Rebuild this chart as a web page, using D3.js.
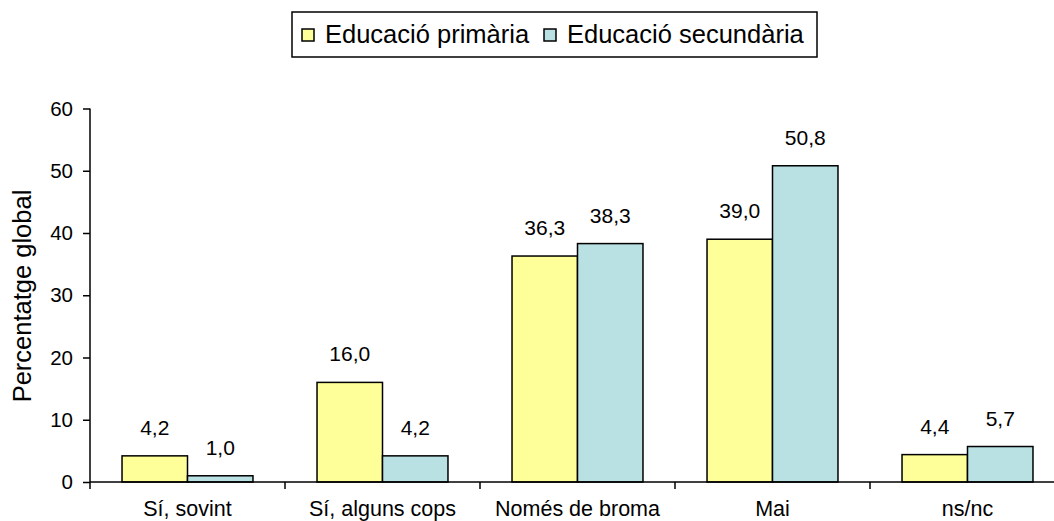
<!DOCTYPE html>
<html>
<head>
<meta charset="utf-8">
<script src="https://cdn.jsdelivr.net/npm/d3@7"></script>
<style>
  html, body { margin: 0; padding: 0; background: #fff; }
  svg { display: block; font-family: "Liberation Sans", Arial, sans-serif; }
</style>
</head>
<body>
<svg id="chart" width="1054" height="521"></svg>
<script>
// Categories and series values (percentatge global)
const categories = ["Sí, sovint", "Sí, alguns cops", "Només de broma", "Mai", "ns/nc"];
const seriesNames = ["Educació primària", "Educació secundària"];
const primaria = [4.2, 16.0, 36.3, 39.0, 4.4];
const secundaria = [1.0, 4.2, 38.3, 50.8, 5.7];
const yTicks = [0, 10, 20, 30, 40, 50, 60];
const seriesColors = ["#FFFF99", "#B9E0E3"];

const fmt = v => v.toFixed(1).replace(".", ",");

const svg = d3.select("#chart");

// Plot geometry
const plotLeft = 90, plotRight = 1065, plotTop = 108.5, plotBottom = 482;

const x0 = d3.scaleBand().domain(categories).range([plotLeft, plotRight]).paddingInner(0).paddingOuter(0);
const x1 = d3.scaleBand().domain(seriesNames).range([0, x0.bandwidth()]).paddingInner(0).paddingOuter(0.489);
const y = d3.scaleLinear().domain([0, 60]).range([plotBottom, plotTop]);

const rows = categories.map((c, i) => ({
  category: c,
  values: [
    { series: seriesNames[0], value: primaria[i], color: seriesColors[0] },
    { series: seriesNames[1], value: secundaria[i], color: seriesColors[1] }
  ]
}));

// Bars
const groups = svg.append("g").selectAll("g")
  .data(rows).join("g")
  .attr("transform", d => `translate(${x0(d.category)},0)`);

groups.selectAll("rect")
  .data(d => d.values).join("rect")
  .attr("x", d => x1(d.series))
  .attr("y", d => y(d.value))
  .attr("width", x1.bandwidth())
  .attr("height", d => y(0) - y(d.value))
  .attr("fill", d => d.color)
  .attr("stroke", "#000")
  .attr("stroke-width", 1.5);

// Value labels
groups.selectAll("text")
  .data(d => d.values).join("text")
  .attr("x", d => x1(d.series) + x1.bandwidth() / 2)
  .attr("y", d => y(d.value) - 21)
  .attr("text-anchor", "middle")
  .attr("font-size", 21)
  .attr("fill", "#000")
  .text(d => fmt(d.value));

// Y axis
const yAxis = svg.append("g")
  .attr("transform", `translate(${plotLeft},0)`)
  .call(d3.axisLeft(y).tickValues(yTicks).tickSize(7).tickPadding(10).tickFormat(d3.format("d")));
yAxis.select(".domain").attr("d", `M0,${plotTop}V${plotBottom}`).attr("stroke", "#000").attr("stroke-width", 1.5);
yAxis.selectAll(".tick line").attr("stroke", "#000").attr("stroke-width", 1.5);
yAxis.selectAll(".tick text").attr("font-size", 20.5).attr("fill", "#000")
  .attr("font-family", "'Liberation Sans', Arial, sans-serif");

// X axis with ticks at category boundaries
const xAxis = svg.append("g")
  .attr("transform", `translate(0,${plotBottom})`);
xAxis.append("line")
  .attr("x1", plotLeft).attr("x2", plotRight)
  .attr("y1", 0).attr("y2", 0)
  .attr("stroke", "#000").attr("stroke-width", 1.5);
const boundaries = categories.map(c => x0(c)).concat([x0(categories[categories.length - 1]) + x0.bandwidth()]);
xAxis.selectAll("line.tick")
  .data(boundaries).join("line")
  .attr("class", "tick")
  .attr("x1", d => d).attr("x2", d => d)
  .attr("y1", 0).attr("y2", 7)
  .attr("stroke", "#000").attr("stroke-width", 1.5);
xAxis.selectAll("text")
  .data(categories).join("text")
  .attr("x", d => x0(d) + x0.bandwidth() / 2)
  .attr("y", 34)
  .attr("text-anchor", "middle")
  .attr("font-size", 21.5)
  .attr("fill", "#000")
  .text(d => d);

// Y axis title
svg.append("text")
  .attr("transform", `translate(31,296) rotate(-90)`)
  .attr("text-anchor", "middle")
  .attr("font-size", 25.5)
  .attr("fill", "#000")
  .text("Percentatge global");

// Legend
const legend = svg.append("g");
legend.append("rect")
  .attr("x", 292).attr("y", 12)
  .attr("width", 525).attr("height", 45)
  .attr("fill", "#fff").attr("stroke", "#000").attr("stroke-width", 1.5);

const legendItems = [
  { name: seriesNames[0], color: seriesColors[0], sx: 302, tx: 325 },
  { name: seriesNames[1], color: seriesColors[1], sx: 544, tx: 567 }
];
legend.selectAll("rect.sw")
  .data(legendItems).join("rect")
  .attr("class", "sw")
  .attr("x", d => d.sx).attr("y", 29)
  .attr("width", 12).attr("height", 12)
  .attr("fill", d => d.color)
  .attr("stroke", "#000").attr("stroke-width", 1.5);
legend.selectAll("text")
  .data(legendItems).join("text")
  .attr("x", d => d.tx).attr("y", 43)
  .attr("font-size", 25.5)
  .attr("fill", "#000")
  .text(d => d.name);
</script>
</body>
</html>
